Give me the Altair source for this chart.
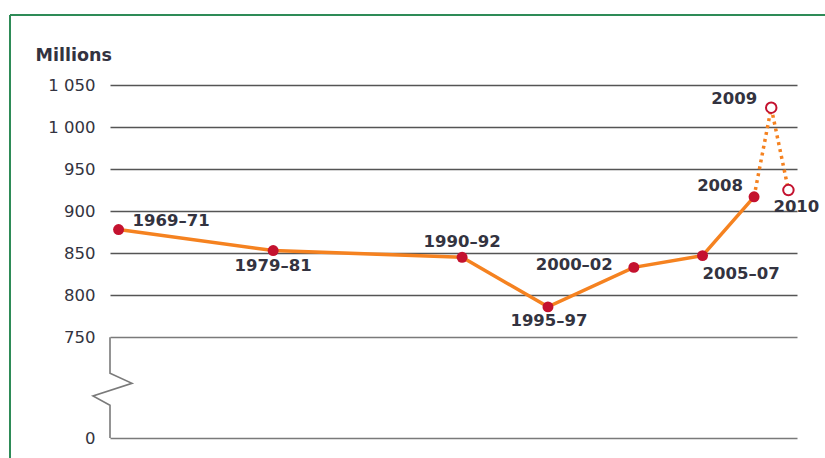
import altair as alt
import pandas as pd

# ---- data ----
labels = ["1969–71", "1979–81", "1990–92", "1995–97", "2000–02", "2005–07", "2008", "2009", "2010"]
x_pos = [1971, 1980, 1991, 1996, 2001, 2005, 2008, 2009, 2010]
values = [878, 853, 845, 786, 833, 847, 917, 1023, 925]
kinds = ["est", "est", "est", "est", "est", "est", "est", "proj", "proj"]

# y-axis tick values; 630 is where the broken axis shows "0"
tick_values = [630, 750, 800, 850, 900, 950, 1000, 1050]
# axis-break zigzag (in axis units)
break_x = [1970.5, 1970.5, 1971.78, 1969.51, 1970.5, 1970.5]
break_y = [750, 707, 695, 680, 669, 630]

df = pd.DataFrame({"label": labels, "x": x_pos, "value": values, "kind": kinds,
                   "i": list(range(len(labels)))})
brk = pd.DataFrame({"x": break_x, "value": break_y, "o": list(range(len(break_x)))})

ORANGE = "#f58220"
RED = "#c4122f"
TEXT = "#333340"
FONT = "DejaVu Sans"

xs = alt.Scale(domain=[1970.5, 2010.5], nice=False, zero=False)
ys = alt.Scale(domain=[630, 1050], nice=False, zero=False)

yaxis = alt.Axis(
    values=tick_values,
    labelExpr="datum.value == 630 ? '0' : replace(format(datum.value, ','), ',', ' ')",
    domain=False, ticks=False, labelPadding=15,
    labelFont=FONT, labelFontSize=16.5, labelColor=TEXT,
    gridColor={"condition": {"test": "datum.value <= 750", "value": "#7a7a7a"}, "value": "#555555"},
    gridWidth=1.6,
    title="Millions", titleAngle=0, titleAlign="left", titleBaseline="middle",
    titleX=-75, titleY=-30, titleFont=FONT, titleFontSize=17.5, titleFontWeight="bold",
    titleColor=TEXT,
)

X = alt.X("x:Q", scale=xs, axis=None)
Y = alt.Y("value:Q", scale=ys, axis=yaxis)

base = alt.Chart(df)

solid = base.transform_filter("datum.i <= 6").mark_line(
    color=ORANGE, strokeWidth=3.5).encode(x=X, y=Y, order="i:Q")
dotted = base.transform_filter("datum.i >= 6").mark_line(
    color=ORANGE, strokeWidth=3.5, strokeDash=[3, 4]).encode(x=X, y=Y, order="i:Q")
filled = base.transform_filter("datum.kind == 'est'").mark_point(
    shape="circle", filled=True, color=RED, size=120, opacity=1).encode(x=X, y=Y)
hollow = base.transform_filter("datum.kind == 'proj'").mark_point(
    shape="circle", filled=True, fill="white", stroke=RED, strokeWidth=2, size=110, opacity=1
).encode(x=X, y=Y)

zig = alt.Chart(brk).mark_line(color="#7a7a7a", strokeWidth=1.6, clip=False).encode(
    x=alt.X("x:Q", scale=xs, axis=None), y=Y, order="o:Q")

# label placement (style, not data)
placement = {
    "1969–71": ("left", 14, -9),
    "1979–81": ("center", 0, 15),
    "1990–92": ("center", 0, -15),
    "1995–97": ("center", 1, 14),
    "2000–02": ("right", -21, -2),
    "2005–07": ("left", 0, 18),
    "2008": ("right", -11, -11),
    "2009": ("right", -14, -9),
    "2010": ("left", -15, 17),
}
texts = []
for lab, (al, dx, dy) in placement.items():
    texts.append(
        base.transform_filter(alt.datum.label == lab).mark_text(
            align=al, baseline="middle", dx=dx, dy=dy, font=FONT, fontSize=16.5,
            fontWeight="bold", color=TEXT
        ).encode(x=X, y=Y, text="label:N")
    )

one = pd.DataFrame({"a": [0]})
border_left = alt.Chart(one).mark_rule(color="#2e8b57", strokeWidth=2).encode(
    x=alt.value(-100), y=alt.value(-70), y2=alt.value(400))
border_top = alt.Chart(one).mark_rule(color="#2e8b57", strokeWidth=2).encode(
    x=alt.value(-100), x2=alt.value(720), y=alt.value(-70))

chart = alt.layer(
    zig, solid, dotted, filled, hollow, *texts, border_left, border_top
).properties(
    width=687, height=353,
    padding={"left": 110, "top": 85, "right": 28, "bottom": 20},
    autosize=alt.AutoSizeParams(type="none"),
    background="white",
).configure_view(stroke=None)

chart.save("out.html", embed_options={"renderer": "svg", "actions": False})
